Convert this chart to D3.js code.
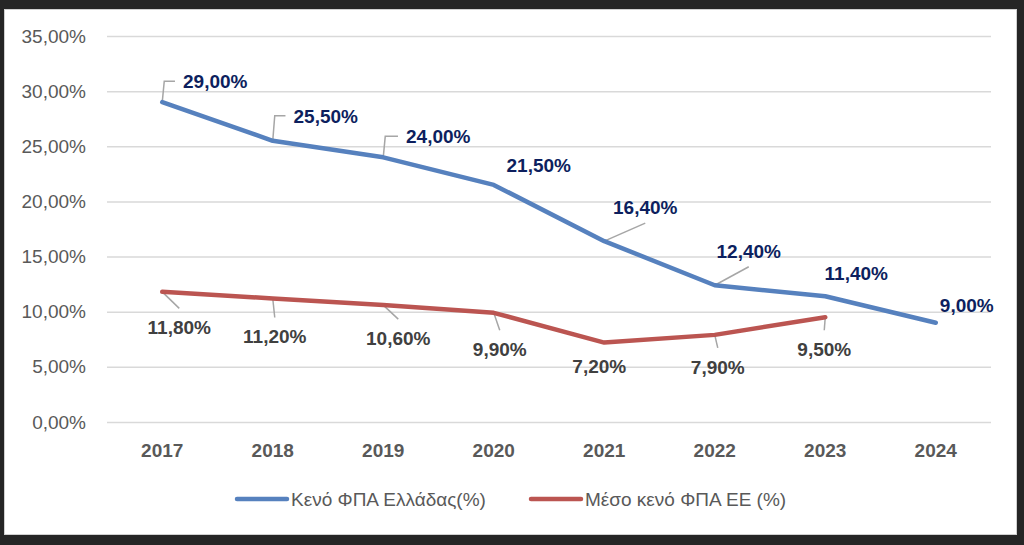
<!DOCTYPE html>
<html>
<head>
<meta charset="utf-8">
<script src="https://cdn.jsdelivr.net/npm/d3@7"></script>
<style>
  html, body { margin: 0; padding: 0; background: #252525; }
  svg { display: block; font-family: "Liberation Sans", Arial, sans-serif; }
</style>
</head>
<body>
<div id="chart"></div>
<script>
// data
const years = ["2017", "2018", "2019", "2020", "2021", "2022", "2023", "2024"];
const greeceGap = [29.0, 25.5, 24.0, 21.5, 16.4, 12.4, 11.4, 9.0];
const euGap = [11.8, 11.2, 10.6, 9.9, 7.2, 7.9, 9.5];
const yTicks = [0, 5, 10, 15, 20, 25, 30, 35];
const seriesNames = ["Κενό ΦΠΑ Ελλάδας(%)", "Μέσο κενό ΦΠΑ ΕΕ (%)"];

// label placement (offset from point, leader type)
const greeceLabelPos = [[53, -21, "elbow"], [53, -25, "elbow"], [55, -21, "elbow"], [45, -20, null],
                        [41, -34, "below"], [34, -34.5, "below"], [31, -23, null], [31, -18, null]];
const euLabelPos = [[17, 35.5, "above"], [2, 38, "above"], [15, 33, "above"], [6, 36.5, "above"],
                    [-5, 24, null], [3, 32, "above"], [-1, 32, "above"]];

let w = 1024,
    h = 545;

let blue = "#5681be",
    red = "#bb5551",
    grey = "#595959";

let svg = d3.select('#chart').append('svg')
    .attr('width', w)
    .attr('height', h);

// white panel
svg.append('rect')
    .attr('x', 4.5).attr('y', 9.5)
    .attr('width', 1012).attr('height', 525)
    .attr('fill', '#fff')
    .attr('stroke', '#d0d0d0');

let margin = { top: 36, right: 33, bottom: 123, left: 107 };

let x = d3.scaleBand()
    .domain(years)
    .range([margin.left, w - margin.right]);

let y = d3.scaleLinear()
    .domain([0, 35])
    .range([h - margin.bottom, margin.top]);

let cx = d => x(d) + x.bandwidth() / 2;

let locale = d3.formatLocale({ decimal: ",", thousands: ".", grouping: [3], currency: ["", "€"] });
let fmt = v => locale.format(".2f")(v) + "%";

// y axis + gridlines
let yAxis = svg.append('g')
    .attr('transform', `translate(${margin.left},0)`)
    .call(d3.axisLeft(y)
        .tickValues(yTicks)
        .tickSize(-(w - margin.left - margin.right))
        .tickPadding(21)
        .tickFormat(fmt));
yAxis.select('.domain').remove();
yAxis.selectAll('line').attr('stroke', '#d9d9d9').attr('stroke-width', 1.5);
yAxis.selectAll('text')
    .attr('fill', grey)
    .style('font-size', '19px')
    .style('font-family', '"Liberation Sans", Arial, sans-serif');

// x axis
let xAxis = svg.append('g')
    .attr('transform', `translate(0,${h - margin.bottom})`)
    .call(d3.axisBottom(x).tickSize(0).tickPadding(21.5));
xAxis.select('.domain').remove();
xAxis.selectAll('text')
    .attr('fill', grey)
    .style('font-size', '19px')
    .style('font-weight', 'bold')
    .style('font-family', '"Liberation Sans", Arial, sans-serif');

let line = d3.line()
    .x((d, i) => cx(years[i]))
    .y(d => y(d));

function drawSeries(values, color, labelPos, labelColor) {
    let g = svg.append('g');
    let leaders = g.append('g');

    g.append('path')
        .datum(values)
        .attr('d', line)
        .attr('fill', 'none')
        .attr('stroke', color)
        .attr('stroke-width', 4.5)
        .attr('stroke-linejoin', 'round')
        .attr('stroke-linecap', 'round');

    values.forEach(function(v, i) {
        let px = cx(years[i]),
            py = y(v);
        let lx = px + labelPos[i][0],
            ly = py + labelPos[i][1];

        let t = g.append('text')
            .attr('x', lx)
            .attr('y', ly)
            .attr('dy', '0.36em')
            .attr('text-anchor', 'middle')
            .attr('fill', labelColor)
            .style('font-size', '19px')
            .style('font-weight', 'bold')
            .text(fmt(v));

        let kind = labelPos[i][2];
        if (!kind) return;
        let bw = t.node().getBBox().width;
        let pts;
        if (kind === 'elbow') {
            pts = [[px, py], [px + 2, ly], [lx - bw / 2 - 8, ly]];
        } else if (kind === 'below') {
            pts = [[px, py], [lx, ly + 16]];
        } else {
            pts = [[px, py], [lx, ly - 19]];
        }
        leaders.append('path')
            .attr('d', d3.line()(pts))
            .attr('fill', 'none')
            .attr('stroke', '#a6a6a6')
            .attr('stroke-width', 1.5);
    });
}

drawSeries(euGap, red, euLabelPos, '#404040');
drawSeries(greeceGap, blue, greeceLabelPos, '#0d1f5e');

// legend
let legendY = 499;
let legendItems = [
    { name: seriesNames[0], color: blue, x0: 237 },
    { name: seriesNames[1], color: red, x0: 531 }
];
let lg = svg.append('g').selectAll('g')
    .data(legendItems)
    .enter().append('g')
    .attr('transform', d => `translate(${d.x0},${legendY})`);
lg.append('line')
    .attr('x1', 0).attr('x2', 50)
    .attr('stroke', d => d.color)
    .attr('stroke-width', 4.5)
    .attr('stroke-linecap', 'round');
lg.append('text')
    .attr('x', 54)
    .attr('dy', '0.36em')
    .attr('fill', grey)
    .style('font-size', '19px')
    .text(d => d.name);
</script>
</body>
</html>
